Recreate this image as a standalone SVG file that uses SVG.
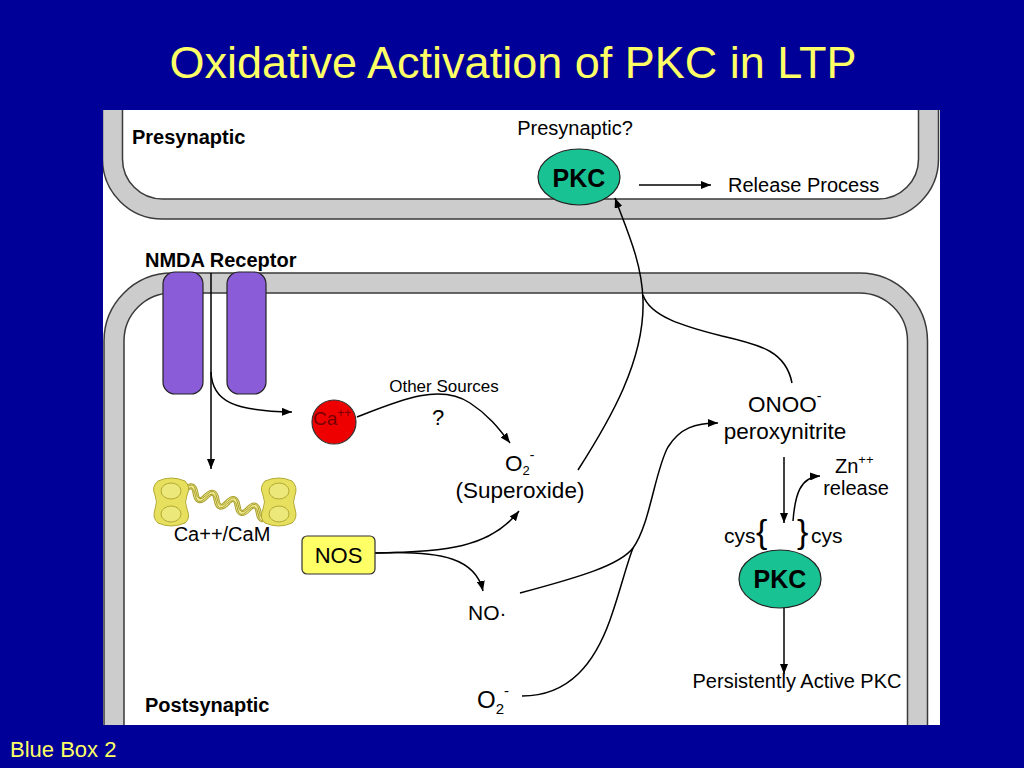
<svg xmlns="http://www.w3.org/2000/svg" width="1024" height="768" viewBox="0 0 1024 768">
<defs>
<style>
text{font-family:"Liberation Sans",Arial,sans-serif;fill:#000}
.title{fill:#FFFF66;font-size:45px}
.foot{fill:#FFFF66;font-size:22px}
.lbl{font-size:20px;font-weight:bold}
.t20{font-size:20px}
.t22{font-size:22.5px}
.conn{fill:none;stroke:#000;stroke-width:1.5}
.arr{marker-end:url(#ah)}
.pkc{fill:#19C293;stroke:#222;stroke-width:1.2}
.pkct{font-size:25px;font-weight:bold;text-anchor:middle}
.rec{fill:#8A5CD8;stroke:#222;stroke-width:1.2}
.lobe{fill:#E6E05E;stroke:#B3AA35;stroke-width:1}
.lobein{fill:#EDE87A;stroke:#B3AA35;stroke-width:1}
.hx{fill:none;stroke:#A89E30;stroke-width:0.9}
</style>
<marker id="ah" viewBox="0 0 10 8" refX="10" refY="4" markerWidth="10" markerHeight="8" markerUnits="userSpaceOnUse" orient="auto">
<path d="M0,0 L10,4 L0,8 z" fill="#000"/>
</marker>
<clipPath id="panelclip"><rect x="103" y="110" width="837" height="615"/></clipPath>
</defs>
<rect x="0" y="0" width="1024" height="768" fill="#000099"/>
<text class="title" x="513" y="78" text-anchor="middle">Oxidative Activation of PKC in LTP</text>
<text class="foot" x="10" y="757">Blue Box 2</text>
<rect x="103" y="110" width="837" height="615" fill="#FFFFFF"/>

<g id="membranes" clip-path="url(#panelclip)">
<path d="M 112.5 100 L 112.5 159 A 50 50 0 0 0 162.5 209 L 878.5 209 A 50 50 0 0 0 928.5 159 L 928.5 100" fill="none" stroke="#3a3a3a" stroke-width="21.5"/>
<path d="M 112.5 100 L 112.5 159 A 50 50 0 0 0 162.5 209 L 878.5 209 A 50 50 0 0 0 928.5 159 L 928.5 100" fill="none" stroke="#CCCCCC" stroke-width="18.5"/>
<path d="M 114 740 L 114 341 A 58 58 0 0 1 172 283 L 859.5 283 A 58 58 0 0 1 917.5 341 L 917.5 740" fill="none" stroke="#3a3a3a" stroke-width="21.5"/>
<path d="M 114 740 L 114 341 A 58 58 0 0 1 172 283 L 859.5 283 A 58 58 0 0 1 917.5 341 L 917.5 740" fill="none" stroke="#CCCCCC" stroke-width="18.5"/>
</g>

<g id="nmda-receptor">
<rect class="rec" x="163" y="272" width="40" height="122" rx="12"/>
<rect class="rec" x="227" y="272" width="39" height="122" rx="12"/>
</g>

<g id="connectors">
<path class="conn arr" d="M 211 273 L 211 469"/>
<path class="conn arr" d="M 211 372 C 212 402, 235 411, 292 412"/>
<path class="conn arr" d="M 357 417 C 400 400, 440 383, 470 403 C 490 416, 500 430, 510 443"/>
<path class="conn arr" d="M 375 553 C 445 552, 490 548, 519 511"/>
<path class="conn arr" d="M 375 553 C 445 550, 476 560, 483 591"/>
<path class="conn arr" d="M 578 470 C 610 420, 645 360, 643 300 C 642 262, 626 228, 615 198"/>
<path class="conn" d="M 792 383 C 786 352, 762 345, 722 336 C 682 326, 650 316, 643 295"/>
<path class="conn arr" d="M 520 593 C 580 577, 620 565, 633 548 C 650 525, 655 470, 668 447 C 680 428, 695 423, 718 423"/>
<path class="conn" d="M 522 696 C 570 696, 595 662, 610 620 C 620 592, 626 566, 633 548"/>
<path class="conn arr" d="M 639 185 L 711 185"/>
<path class="conn arr" d="M 784 457 L 784 523"/>
<path class="conn arr" d="M 793 521 C 795 495, 800 477, 820 476"/>
<path class="conn arr" d="M 784 608 L 784 674"/>
</g>

<g id="pkc-presynaptic">
<ellipse class="pkc" cx="579" cy="177" rx="41" ry="28"/>
<text class="pkct" x="579" y="187">PKC</text>
</g>

<g id="pkc-postsynaptic">
<ellipse class="pkc" cx="780" cy="579" rx="41" ry="29"/>
<text class="pkct" x="780" y="588">PKC</text>
</g>

<g id="calcium">
<circle cx="334" cy="422" r="22" fill="#EE0000" stroke="#333" stroke-width="1.2"/>
<text x="313" y="425" style="font-size:19px;fill:#7A0000">Ca<tspan dy="-8" style="font-size:12px;fill:#7A0000">++</tspan></text>
</g>

<g id="cam">
<g transform="translate(185,490) rotate(17)">
<path d="M0 0 Q 5.5 -11 11 0 T 22 0 T 33 0 T 44 0 T 55 0 T 66 0 T 77 0 T 86 0" fill="none" stroke="#A89E30" stroke-width="6"/>
<path d="M0 0 Q 5.5 -11 11 0 T 22 0 T 33 0 T 44 0 T 55 0 T 66 0 T 77 0 T 86 0" fill="none" stroke="#EEE98C" stroke-width="4"/>
<path class="hx" d="M0 -1.5 Q 5.5 -12.5 11 -1.5 T 22 -1.5 T 33 -1.5 T 44 -1.5 T 55 -1.5 T 66 -1.5 T 77 -1.5 T 86 -1.5"/>
<path class="hx" d="M0 1.5 Q 5.5 -9.5 11 1.5 T 22 1.5 T 33 1.5 T 44 1.5 T 55 1.5 T 66 1.5 T 77 1.5 T 86 1.5"/>
</g>
<path class="lobe" d="M 158 481 Q 171 475 185 481 Q 191 487 187 495 Q 184 502 187 509 Q 191 518 185 523 Q 171 529 158 523 Q 152 518 155 509 Q 158 502 155 495 Q 151 487 158 481 Z"/>
<ellipse class="lobein" cx="171" cy="491" rx="10" ry="8"/>
<ellipse class="lobein" cx="171" cy="514" rx="10" ry="8"/>
<path class="lobe" d="M 265 481 Q 279 475 292 481 Q 298 487 295 495 Q 292 502 295 509 Q 298 518 292 523 Q 279 529 265 523 Q 259 518 263 509 Q 266 502 263 495 Q 259 487 265 481 Z"/>
<ellipse class="lobein" cx="279" cy="491" rx="10" ry="8"/>
<ellipse class="lobein" cx="279" cy="514" rx="10" ry="8"/>
<text class="t20" x="222" y="541" text-anchor="middle">Ca++/CaM</text>
</g>

<g id="nos">
<rect x="302" y="536" width="73" height="38" rx="5" fill="#FFFF66" stroke="#333" stroke-width="1.2"/>
<text x="338.5" y="563" text-anchor="middle" style="font-size:22px">NOS</text>
</g>

<g id="superoxide">
<text class="t22" x="505" y="471">O<tspan dy="4" style="font-size:13px">2</tspan><tspan dy="-15" style="font-size:14px">-</tspan></text>
<text class="t22" x="520" y="498" text-anchor="middle">(Superoxide)</text>
</g>

<g id="no">
<text x="468" y="620" style="font-size:21px">NO·</text>
</g>

<g id="superoxide-2">
<text x="477" y="708" style="font-size:24px">O<tspan dy="6" style="font-size:15px">2</tspan><tspan dy="-18" style="font-size:15px">-</tspan></text>
</g>

<g id="peroxynitrite">
<text class="t22" x="748" y="412">ONOO<tspan dy="-11" style="font-size:14px">-</tspan></text>
<text class="t22" x="785" y="439" text-anchor="middle">peroxynitrite</text>
</g>

<g id="zn-release">
<text class="t20" x="835" y="473">Zn<tspan dy="-9" style="font-size:13px">++</tspan></text>
<text class="t20" x="856" y="495" text-anchor="middle">release</text>
</g>

<g id="cys">
<text x="724" y="543" style="font-size:21px">cys</text>
<text x="756" y="543" style="font-size:34px">{</text>
<text x="797" y="543" style="font-size:34px">}</text>
<text x="811" y="543" style="font-size:21px">cys</text>
</g>

<g id="labels">
<text class="lbl" x="132" y="144">Presynaptic</text>
<text class="lbl" x="145" y="267">NMDA Receptor</text>
<text class="lbl" x="145" y="712">Postsynaptic</text>
<text class="t20" x="575" y="135" text-anchor="middle">Presynaptic?</text>
<text class="t20" x="728" y="192">Release Process</text>
<text x="444" y="392" text-anchor="middle" style="font-size:17px">Other Sources</text>
<text x="438" y="425" text-anchor="middle" style="font-size:22px">?</text>
<text class="t20" x="797" y="688" text-anchor="middle">Persistently Active PKC</text>
</g>
</svg>
